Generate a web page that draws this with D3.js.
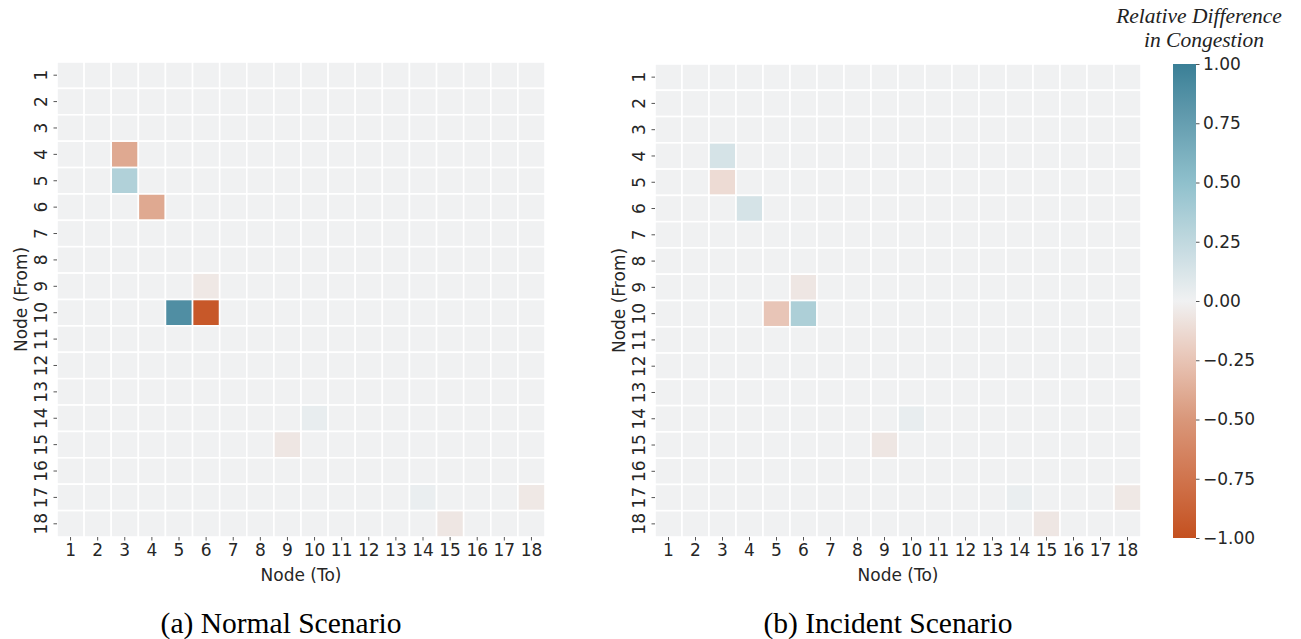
<!DOCTYPE html>
<html>
<head>
<meta charset="utf-8">
<script src="https://cdn.jsdelivr.net/npm/d3@7"></script>
<style>
  body { margin: 0; background: #fff; }
  svg { display: block; }
  .tick text { fill: #262626; }
  .tick line { stroke: #555; }
</style>
</head>
<body>
<div id="chart"></div>
<script>
// node labels (both axes)
const nodes = ["1", "2", "3", "4", "5", "6", "7", "8", "9", "10", "11", "12", "13", "14", "15", "16", "17", "18"];

// non-zero cells: [from, to, relative difference]; every other cell is 0
const normalCells = [
  ["4", "3", -0.40],
  ["5", "3", 0.33],
  ["6", "4", -0.40],
  ["9", "6", -0.05],
  ["10", "5", 0.88],
  ["10", "6", -0.95],
  ["14", "10", 0.04],
  ["15", "9", -0.06],
  ["17", "14", 0.03],
  ["17", "18", -0.05],
  ["18", "15", -0.06],
];

const incidentCells = [
  ["4", "3", 0.14],
  ["5", "3", -0.12],
  ["6", "4", 0.14],
  ["9", "6", -0.06],
  ["10", "5", -0.24],
  ["10", "6", 0.35],
  ["14", "10", 0.04],
  ["15", "9", -0.06],
  ["17", "14", 0.03],
  ["17", "18", -0.05],
  ["18", "15", -0.06],
];

const colorTicks = [-1, -0.75, -0.5, -0.25, 0, 0.25, 0.5, 0.75, 1];

const width = 1301;
const height = 639;
const sans = "'DejaVu Sans', sans-serif";
const serif = "'Liberation Serif', 'Times New Roman', serif";

// diverging palette, orange (-1) -> light grey (0) -> teal (+1)
const color = d3
  .scaleLinear()
  .domain([-1, -0.5, 0, 0.5, 1])
  .range(["#c4501f", "#d9977a", "#f0f1f2", "#8fc0cc", "#3a7f96"])
  .interpolate(d3.interpolateLab)
  .clamp(true);

const svg = d3
  .select("#chart")
  .append("svg")
  .attr("width", width)
  .attr("height", height)
  .attr("viewBox", [0, 0, width, height]);

function heatmap({ left, right, top, bottom, cells, caption, captionX }) {
  const lookup = new Map(cells.map((d) => [d[0] + "-" + d[1], d[2]]));
  const grid = [];
  for (const from of nodes) {
    for (const to of nodes) {
      grid.push({ from, to, value: lookup.get(from + "-" + to) ?? 0 });
    }
  }

  const x = d3.scaleBand().domain(nodes).range([left, right]);
  const y = d3.scaleBand().domain(nodes).range([top, bottom]);

  const g = svg.append("g");

  g.append("g")
    .selectAll("rect")
    .data(grid)
    .join("rect")
    .attr("x", (d) => x(d.to))
    .attr("y", (d) => y(d.from))
    .attr("width", x.bandwidth())
    .attr("height", y.bandwidth())
    .attr("fill", (d) => color(d.value))
    .attr("stroke", "#fff")
    .attr("stroke-width", 1.6);

  g.append("g")
    .attr("transform", `translate(0,${bottom})`)
    .call(d3.axisBottom(x).tickSize(3.5).tickPadding(3.5))
    .call((s) => s.select(".domain").remove())
    .attr("font-size", 17)
    .attr("font-family", sans);

  g.append("g")
    .attr("transform", `translate(${left},0)`)
    .call(d3.axisLeft(y).tickSize(3.5).tickPadding(3.5))
    .call((s) => s.select(".domain").remove())
    .attr("font-size", 17)
    .attr("font-family", sans)
    .call((s) =>
      s
        .selectAll(".tick text")
        .attr("transform", "rotate(-90)")
        .attr("text-anchor", "middle")
        .attr("x", 0)
        .attr("y", -10)
        .attr("dy", null)
    );

  g.append("text")
    .attr("x", (left + right) / 2)
    .attr("y", bottom + 44)
    .attr("text-anchor", "middle")
    .attr("font-family", sans)
    .attr("font-size", 17)
    .attr("fill", "#262626")
    .text("Node (To)");

  g.append("text")
    .attr(
      "transform",
      `translate(${left - 30},${(top + bottom) / 2})rotate(-90)`
    )
    .attr("text-anchor", "middle")
    .attr("font-family", sans)
    .attr("font-size", 17)
    .attr("fill", "#262626")
    .text("Node (From)");

  g.append("text")
    .attr("x", captionX)
    .attr("y", 633)
    .attr("text-anchor", "middle")
    .attr("font-family", serif)
    .attr("font-size", 29.5)
    .attr("fill", "#000")
    .text(caption);
}

heatmap({
  left: 57,
  right: 545,
  top: 62,
  bottom: 537,
  cells: normalCells,
  caption: "(a) Normal Scenario",
  captionX: 281,
});

heatmap({
  left: 655,
  right: 1141,
  top: 64,
  bottom: 537,
  cells: incidentCells,
  caption: "(b) Incident Scenario",
  captionX: 888,
});

// colour bar
const cb = { left: 1173, right: 1196, top: 64, bottom: 538 };
const cy = d3.scaleLinear().domain([-1, 1]).range([cb.bottom, cb.top]);

const grad = svg
  .append("defs")
  .append("linearGradient")
  .attr("id", "cbar")
  .attr("x1", 0)
  .attr("x2", 0)
  .attr("y1", 1)
  .attr("y2", 0);
grad
  .selectAll("stop")
  .data(d3.range(0, 1.0001, 0.05))
  .join("stop")
  .attr("offset", (t) => t)
  .attr("stop-color", (t) => color(-1 + 2 * t));

svg
  .append("rect")
  .attr("x", cb.left)
  .attr("y", cb.top)
  .attr("width", cb.right - cb.left)
  .attr("height", cb.bottom - cb.top)
  .attr("fill", "url(#cbar)");

svg
  .append("g")
  .attr("transform", `translate(${cb.right},0)`)
  .call(
    d3.axisRight(cy).tickValues(colorTicks).tickFormat(d3.format(".2f")).tickSize(3.5).tickPadding(3.5)
  )
  .call((s) => s.select(".domain").remove())
  .attr("font-size", 17)
  .attr("font-family", sans);

svg
  .append("text")
  .attr("text-anchor", "middle")
  .attr("font-family", serif)
  .attr("font-style", "italic")
  .attr("font-size", 21.5)
  .attr("fill", "#222")
  .call((t) => t.append("tspan").attr("x", 1199).attr("y", 23).text("Relative Difference"))
  .call((t) => t.append("tspan").attr("x", 1204).attr("y", 47).text("in Congestion"));
</script>
</body>
</html>
